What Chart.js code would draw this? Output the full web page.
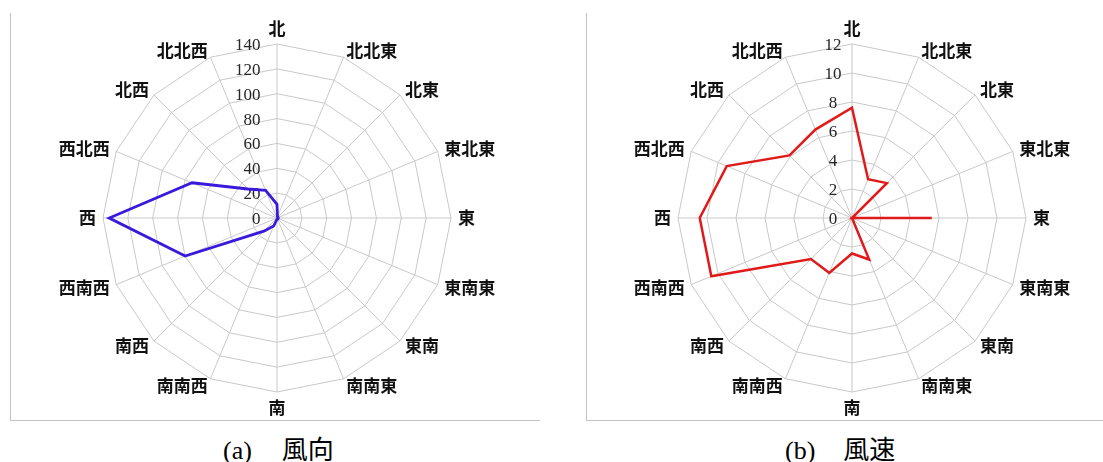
<!DOCTYPE html>
<html>
<head>
<meta charset="utf-8">
<script src="https://cdn.jsdelivr.net/npm/chart.js@4.4.1/dist/chart.umd.min.js"></script>
<style>
  html, body { margin: 0; padding: 0; background: #ffffff; }
  body { width: 1103px; height: 462px; position: relative; overflow: hidden; }
  canvas { position: absolute; }
  .frameL { position: absolute; background: #c4c4c4; }
  .cap { position: absolute; top: 434px; font-family: "Liberation Serif", "Noto Sans CJK JP", serif; font-size: 26px; line-height: 28px; color: #000; white-space: nowrap; }
  .cap .cj { font-family: "Noto Sans CJK JP", sans-serif; font-weight: 400; }
</style>
</head>
<body>
<div class="frameL" style="left:10px; top:13px; width:1px; height:408px;"></div>
<div class="frameL" style="left:10px; top:420px; width:530px; height:1px;"></div>
<div class="frameL" style="left:586px; top:13px; width:1px; height:408px;"></div>
<div class="frameL" style="left:586px; top:420px; width:517px; height:1px;"></div>

<canvas id="c1" width="500" height="420" style="left:27px; top:8px;"></canvas>
<canvas id="c2" width="500" height="420" style="left:602px; top:8px;"></canvas>

<div class="cap" style="left:223px;">(a)<span class="cj" style="margin-left:30px;">風向</span></div>
<div class="cap" style="left:785px;">(b)<span class="cj" style="margin-left:28px;">風速</span></div>

<script>
// ---- data ----
const directions = ['北', '北北東', '北東', '東北東', '東', '東南東', '東南', '南南東',
                    '南', '南南西', '南西', '西南西', '西', '西北西', '北西', '北北西'];
// (a) wind direction frequency
const windDirectionValues = [11, 1, 1, 1, 1, 1, 1, 1, 1, 7, 15, 80, 135, 74, 33, 24];
// (b) wind speed
const windSpeedValues = [7.6, 2.9, 3.4, 0, 5.5, 0, 0, 3.1, 2.45, 4.1, 4.0, 10.5, 10.5, 9.35, 6.1, 6.6];
const directionTicks = [0, 20, 40, 60, 80, 100, 120, 140];
const speedTicks = [0, 2, 4, 6, 8, 10, 12];

const labelPlugin = {
  id: 'customLabels',
  beforeDatasetsDraw(chart, args, opts) {
    const s = chart.scales.r;
    const ctx = chart.ctx;
    ctx.save();
    ctx.font = '17px "Liberation Serif"';
    ctx.fillStyle = '#262626';
    ctx.textAlign = opts.tickAlign;
    ctx.textBaseline = 'middle';
    s.ticks.forEach(t => {
      const d = s.getDistanceFromCenterForValue(t.value);
      ctx.fillText(String(t.value), s.xCenter + opts.tickX, s.yCenter - d + 1.5);
    });
    ctx.restore();
  },
  afterDraw(chart, args, opts) {
    const s = chart.scales.r;
    const ctx = chart.ctx;
    ctx.save();
    ctx.font = 'bold 17px "Noto Sans CJK JP"';
    ctx.fillStyle = '#111111';
    chart.data.labels.forEach((lab, i) => {
      const p = s.getPointPosition(i, s.drawingArea + 7);
      const dx = p.x - s.xCenter, dy = p.y - s.yCenter;
      if (Math.abs(dx) < 1) {
        ctx.textAlign = 'center';
        ctx.textBaseline = dy < 0 ? 'bottom' : 'top';
      } else {
        ctx.textAlign = dx > 0 ? 'left' : 'right';
        ctx.textBaseline = 'middle';
      }
      ctx.fillText(lab, p.x, p.y);
    });
    ctx.restore();
  }
};

function makeRadar(id, values, ticks, color, width, tickAlign, tickX) {
  return new Chart(document.getElementById(id), {
    type: 'radar',
    data: {
      labels: directions,
      datasets: [{
        data: values,
        borderColor: color,
        borderWidth: width,
        fill: false,
        pointRadius: 0,
        pointHoverRadius: 0,
        tension: 0
      }]
    },
    options: {
      responsive: false,
      animation: false,
      devicePixelRatio: 1,
      layout: { padding: { left: 76, right: 76, top: 36, bottom: 36 } },
      plugins: {
        legend: { display: false },
        tooltip: { enabled: false },
        customLabels: { tickAlign: tickAlign, tickX: tickX }
      },
      scales: {
        r: {
          min: ticks[0],
          max: ticks[ticks.length - 1],
          ticks: { stepSize: ticks[1] - ticks[0], display: false },
          pointLabels: { display: false },
          grid: { color: '#c9c9c9', lineWidth: 1 },
          angleLines: { color: '#c9c9c9', lineWidth: 1 }
        }
      }
    },
    plugins: [labelPlugin]
  });
}

makeRadar('c1', windDirectionValues, directionTicks, '#3a18dc', 2.8, 'right', -16.5);
makeRadar('c2', windSpeedValues, speedTicks, '#e01a1a', 2.5, 'center', -19);
</script>
</body>
</html>
